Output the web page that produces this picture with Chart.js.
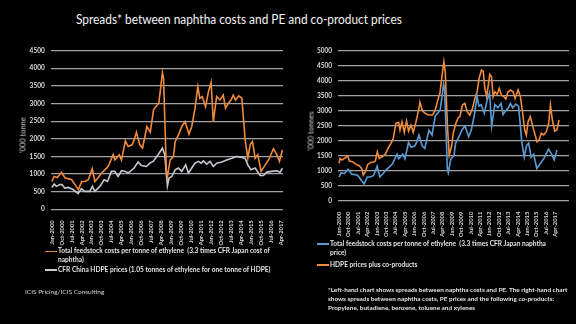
<!DOCTYPE html>
<html>
<head>
<meta charset="utf-8">
<script src="https://cdn.jsdelivr.net/npm/chart.js@4"></script>
<style>
  html, body { margin: 0; padding: 0; background: #000; }
  #wrap { position: relative; width: 576px; height: 324px; overflow: hidden; background: #000; font-family: Lato, "Open Sans", sans-serif; color: #e2e2e2; }
  canvas { position: absolute; top: 0; }
  .txt { position: absolute; white-space: nowrap; }
  .title { left: 76px; top: 11px; font-size: 13.5px; color: #f2f2f2; transform: scaleX(0.88); transform-origin: left top; }
  .legend { font-size: 6.6px; font-weight: bold; line-height: 9.4px; }
  .sw { display: inline-block; width: 12px; height: 1.6px; vertical-align: middle; margin-right: 1px; }
  .ind { padding-left: 13px; }
  .axt { font-size: 7.5px; transform: translate(-50%, -50%) rotate(-90deg); color: #d9d9d9; }
  .note { font-size: 6.4px; font-weight: bold; line-height: 9px; }
  .src { font-size: 6.5px; color: #d0d0d0; }
</style>
</head>
<body>
<div id="wrap">
  <div class="txt title">Spreads* between naphtha costs and PE and co-product prices</div>

  <canvas id="left" width="292" height="324" style="left:0"></canvas>
  <canvas id="right" width="284" height="324" style="left:292px"></canvas>

  <div class="txt axt" style="left:23px; top:135px">'000 tonne</div>
  <div class="txt axt" style="left:311px; top:131px">'000 tonnes</div>

  <div class="txt legend" style="left:45px; top:246px">
    <span class="sw" style="background:#f08a3c"></span>Total feedstock costs per tonne of ethylene &nbsp;(3.3 times CFR Japan cost of<br>
    <span class="ind">naphtha)</span><br>
    <span class="sw" style="background:#c8cdd4"></span>CFR China HDPE prices (1.05 tonnes of ethylene for one tonne of HDPE)
  </div>

  <div class="txt legend" style="left:317px; top:238.5px">
    <span class="sw" style="background:#5b9bd5"></span>Total feedstock costs per tonne of ethylene &nbsp;(3.3 times CFR Japan naphtha<br>
    <span class="ind">price)</span><br>
    <div style="height:2.5px"></div>
    <span class="sw" style="background:#f08a3c"></span>HDPE prices plus co-products
  </div>

  <div class="txt note" style="left:328px; top:284.5px">
    *Left-hand chart shows spreads between naphtha costs and PE. The right-hand chart<br>
    shows spreads between naphtha costs, PE prices and the following co-products:<br>
    Propylene, butadiene, benzene, toluene and xylenes
  </div>

  <div class="txt src" style="left:25px; top:288px">ICIS Pricing/ICIS Consulting</div>
</div>

<script>
// x positions are months counted from Jan-2000
const tickMonths = [0, 9, 18, 27, 36, 45, 54, 63, 72, 81, 90, 99, 108, 117, 126, 135, 144, 153, 162, 171, 180, 189, 198, 207];
const tickLabels = ['Jan-2000', 'Oct-2000', 'Jul-2001', 'Apr-2002', 'Jan-2003', 'Oct-2003', 'Jul-2004', 'Apr-2005',
  'Jan-2006', 'Oct-2006', 'Jul-2007', 'Apr-2008', 'Jan-2009', 'Oct-2009', 'Jul-2010', 'Apr-2011',
  'Jan-2012', 'Oct-2012', 'Jul-2013', 'Apr-2014', 'Jan-2015', 'Oct-2015', 'Jul-2016', 'Apr-2017'];

// Total feedstock costs per tonne of ethylene (used in both charts)
const feedstock = [[0,790],[2,930],[5,900],[8.7,1050],[12,890],[15,870],[18,840],[22,650],[24,560],[27,790],[30,790],
  [33,840],[36.5,1150],[39,790],[42,900],[45,1030],[48,1120],[51,1220],[55.5,1550],[57,1400],[61,1550],[63,1400],
  [66.5,1940],[69,1780],[72.6,1830],[74.4,1970],[76.5,2190],[79.5,1830],[82,1740],[86,2350],[89,2190],[92,2820],
  [94,2910],[96.7,3010],[98,3340],[100,3880],[101,3720],[103.6,1075],[104.5,930],[107,1400],[110,1500],[111.5,1920],
  [114.5,2110],[117.5,2350],[120.5,2490],[124,2130],[126.5,2350],[129.5,2870],[132,3480],[133.8,3150],[136,3200],
  [139,2910],[141.6,3340],[144,3600],[146,2490],[149,3200],[152,3100],[155,3240],[157,2870],[159.7,3010],[162,3100],
  [164,3240],[166,3100],[169,3220],[171.8,3150],[174.8,1970],[177.2,1450],[179.3,1830],[181.4,1920],[183.8,1450],
  [186.2,1550],[189.2,1075],[192.9,1260],[195.9,1400],[200.4,1720],[203.4,1550],[205.8,1360],[208.5,1690]];

// CFR China HDPE prices
const hdpe = [[0,620],[2.1,715],[4.2,650],[7.2,700],[9.3,700],[11.7,600],[14.7,620],[19.3,560],[23.8,445],[26.8,585],
  [29.8,510],[34.3,510],[36.7,650],[38.8,510],[43.4,650],[47.3,840],[50.3,790],[53.9,1075],[56.9,1075],[59.9,930],
  [63,1095],[66.6,1075],[69,1030],[74.4,1170],[78,1340],[81,1245],[85.6,1215],[88.6,1310],[91.6,1360],[96.1,1550],
  [100,1735],[102.1,1550],[104.5,660],[106,885],[108.5,930],[111.5,1120],[114.5,1170],[117.5,1075],[121,1260],
  [123.5,1030],[126.5,1170],[129.5,1310],[132.6,1360],[135,1310],[137,1375],[140,1280],[143,1360],[146,1215],
  [149,1310],[153.7,1340],[158,1400],[162.7,1450],[167,1500],[171.7,1470],[174.8,1450],[177.2,1260],[180,1120],
  [183.8,1170],[188.3,960],[191.3,960],[194.4,1055],[198.9,1075],[203.4,1095],[206.4,1055],[208.5,1170]];

// HDPE prices plus co-products
const coProducts = [[0,1245],[1,1410],[2.9,1355],[5.1,1410],[8.3,1490],[9.9,1320],[13,1300],[16.2,1210],[19.4,1165],
  [22,1055],[23.2,855],[25.2,965],[27.4,1210],[30.6,1280],[32.8,1280],[34.7,1320],[36.6,1630],[38.5,1410],[41,1465],
  [44.3,1545],[46.5,1720],[49.7,1910],[51.9,2080],[54.4,2580],[57,2610],[58.3,2355],[60.2,2630],[62.4,2280],
  [64.6,2655],[66.5,2320],[68.8,2520],[71,2280],[73.5,2610],[76.1,3020],[77.4,3280],[79.9,2990],[82.5,2910],
  [85.6,2855],[89.5,2855],[92,3020],[94.2,3320],[96.5,3580],[98.4,4130],[100.3,4630],[101.6,4300],[103.8,2410],
  [105.4,1520],[107.9,1855],[109.2,2245],[111.8,2580],[114,2765],[115.6,2800],[118.1,3190],[120.3,3245],[122.6,2965],
  [125.1,2855],[127.7,3080],[129.9,3410],[132.1,3630],[134,4080],[136.3,4355],[137.9,4320],[139.5,3745],[141.2,3470],
  [142.8,3855],[144.2,4210],[145.9,4130],[147.4,3470],[149,3630],[151.3,3545],[153.2,3745],[155.4,3520],[157.6,3470],
  [159.5,3390],[161.7,3630],[164,3690],[166.5,3630],[168.4,3410],[171.3,3690],[173.5,3470],[175.5,2965],[177.6,2355],
  [179.2,2190],[180.8,2630],[183,2800],[185,2520],[187.2,2245],[189.4,1965],[191.3,2020],[193.6,2245],[195.8,2190],
  [198.3,2300],[200.6,2580],[202.2,3190],[204.1,2690],[206.3,2320],[208.5,2355],[210.4,2690]];

const toXY = arr => arr.map(([x, y]) => ({ x, y }));

function lineSet(data, color) {
  return {
    data: toXY(data),
    borderColor: color,
    borderWidth: 1.6,
    pointRadius: 0,
    pointHoverRadius: 0,
    fill: false,
    tension: 0
  };
}

function makeChart(id, datasets, opt) {
  return new Chart(document.getElementById(id), {
    type: 'line',
    data: { datasets },
    options: {
      responsive: false,
      animation: false,
      layout: { padding: opt.padding },
      plugins: { legend: { display: false }, tooltip: { enabled: false } },
      scales: {
        x: {
          type: 'linear',
          min: -1,
          max: opt.xMax,
          grid: { display: false },
          border: { display: false },
          afterBuildTicks: scale => { scale.ticks = tickMonths.map(v => ({ value: v })); },
          afterFit: scale => { scale.height = opt.xHeight; scale.paddingLeft = 0; scale.paddingRight = 0; },
          ticks: {
            autoSkip: false,
            minRotation: 90,
            maxRotation: 90,
            padding: 3,
            color: '#d9d9d9',
            font: { family: 'Lato', size: 5.8, weight: 'bold' },
            callback: (value, index) => tickLabels[index]
          }
        },
        y: {
          min: 0,
          max: opt.yMax,
          grid: { color: '#a3a3a3', lineWidth: 1.3, drawTicks: false },
          border: { display: false },
          afterFit: scale => { scale.width = opt.yWidth; scale.paddingTop = 0; scale.paddingBottom = 0; },
          ticks: {
            stepSize: 500,
            padding: 6,
            color: '#d9d9d9',
            font: { family: 'Lato', size: 6.5, weight: 'bold' },
            callback: value => String(value)
          }
        }
      }
    }
  });
}

makeChart('left', [lineSet(feedstock, '#f08a3c'), lineSet(hdpe, '#c3c8cf')], {
  padding: { left: 0, top: 50.7, right: 9, bottom: 0 },
  xMax: 209, yMax: 4500, yWidth: 50.7, xHeight: 114.7
});

makeChart('right', [lineSet(feedstock, '#5b9bd5'), lineSet(coProducts, '#f08a3c')], {
  padding: { left: 6, top: 50.7, right: 7, bottom: 0 },
  xMax: 220, yMax: 5000, yWidth: 40, xHeight: 123.3
});
</script>
</body>
</html>
